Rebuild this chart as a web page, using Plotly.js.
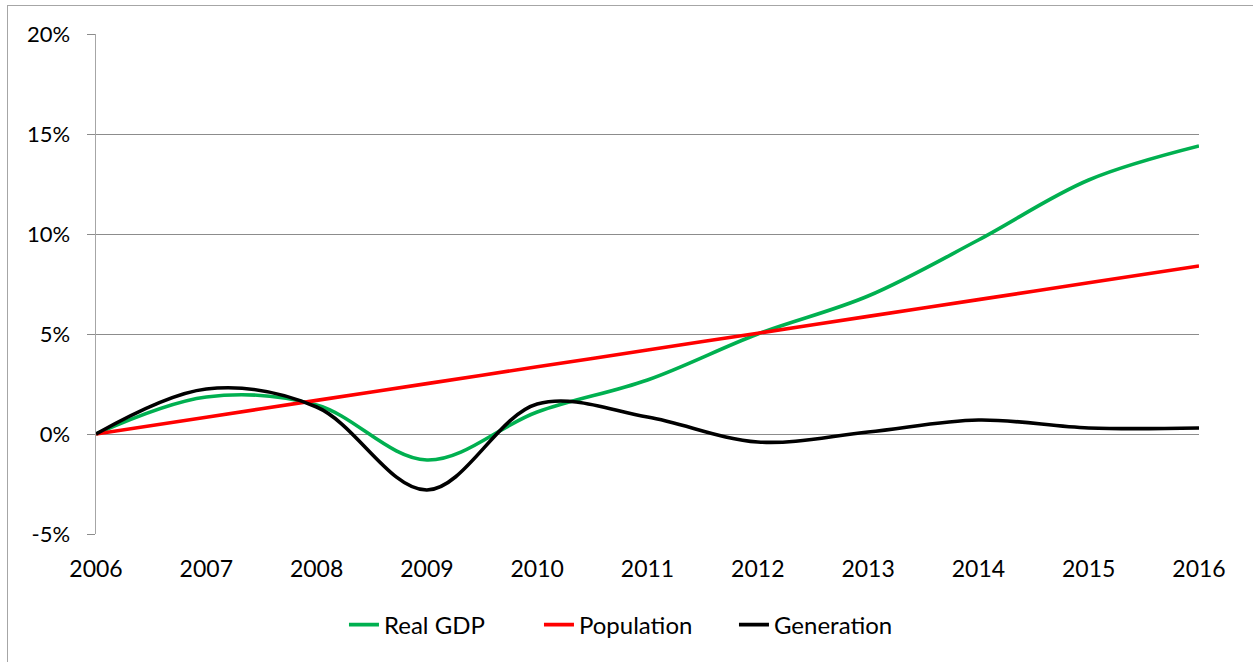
<!DOCTYPE html>
<html>
<head>
<meta charset="utf-8">
<script src="https://cdn.plot.ly/plotly-3.0.1.min.js"></script>
<style>
  html, body { margin: 0; padding: 0; background: #fff; overflow: hidden; }
  #chart { width: 1253px; height: 662px; }
  #frame { position: absolute; left: 7px; top: 5px; width: 1400px; height: 800px;
           border-left: 1px solid #a6a6a6; border-top: 1px solid #a6a6a6; pointer-events: none; }
</style>
</head>
<body>
<div id="chart"></div>
<div id="frame"></div>
<script>
const years = [2006, 2007, 2008, 2009, 2010, 2011, 2012, 2013, 2014, 2015, 2016];
const realGDP = [0, 1.85, 1.45, -1.3, 1.1, 2.7, 5.0, 6.9, 9.7, 12.7, 14.4];
const population = [0, 0.84, 1.68, 2.52, 3.36, 4.2, 5.04, 5.88, 6.72, 7.56, 8.4];
const generation = [0, 2.25, 1.35, -2.8, 1.5, 0.85, -0.4, 0.1, 0.7, 0.3, 0.3];
const yTicks = [-5, 0, 5, 10, 15, 20];
const yTickLabels = ['-5%', '0%', '5%', '10%', '15%', '20%'];

const font = "Lato, 'Open Sans', sans-serif";

const traces = [
  { name: 'Real GDP', x: years, y: realGDP, color: '#00b050' },
  { name: 'Population', x: years, y: population, color: '#ff0000' },
  { name: 'Generation', x: years, y: generation, color: '#000000' }
].map(s => ({
  type: 'scatter', mode: 'lines', name: s.name, x: s.x, y: s.y,
  line: { color: s.color, width: 3.6, shape: 'spline', smoothing: 1 },
  hoverinfo: 'x+y+name'
}));

const layout = {
  width: 1253, height: 662,
  margin: { l: 96, r: 54, t: 34, b: 128 },
  paper_bgcolor: '#ffffff', plot_bgcolor: '#ffffff',
  font: { family: font, color: '#000000', size: 22 },
  showlegend: true,
  legend: {
    orientation: 'h', x: 0.49, xanchor: 'center', y: -0.182, yanchor: 'middle',
    font: { family: font, size: 24, color: '#000' }, traceorder: 'normal',
    entrywidth: 150, entrywidthmode: 'pixels'
  },
  xaxis: {
    range: [2006, 2016], tickvals: years, ticktext: years.map(String),
    showgrid: false, zeroline: false, showline: false,
    ticks: 'outside', ticklen: 14, tickcolor: 'rgba(0,0,0,0)',
    tickfont: { family: font, size: 23, color: '#000' }, fixedrange: true
  },
  yaxis: {
    range: [-5, 20], tickvals: yTicks, ticktext: yTickLabels,
    showgrid: true, gridcolor: '#8c8c8c', gridwidth: 1,
    zeroline: false, showline: true, linecolor: '#a6a6a6', linewidth: 1.5,
    ticks: 'outside', ticklen: 8, tickcolor: '#8c8c8c', ticklabelstandoff: 12,
    tickfont: { family: font, size: 22, color: '#000' }, fixedrange: true
  }
};

Plotly.newPlot('chart', traces, layout, { displayModeBar: false, staticPlot: true });
</script>
</body>
</html>
